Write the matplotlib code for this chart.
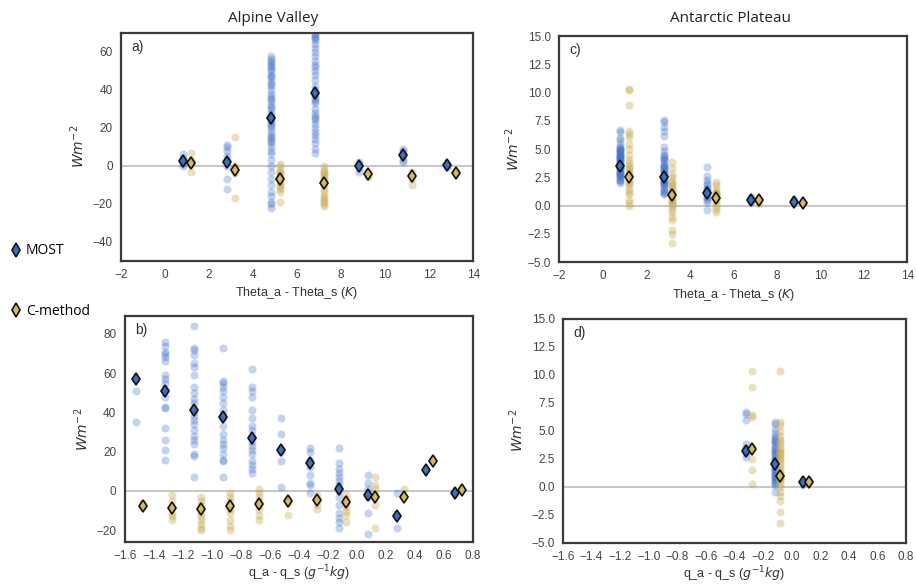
import matplotlib
matplotlib.use("Agg")
import matplotlib.pyplot as plt
from matplotlib.lines import Line2D

plt.rcParams['font.family'] = ['Liberation Sans', 'DejaVu Sans']
plt.rcParams['mathtext.fontset'] = 'dejavusans'

# ---------------- Panel a: Alpine Valley, Theta bins ----------------
a_bins = [1, 3, 5, 7, 9, 11, 13]
a_most_mean = [2.5, 2.0, 25.0, 38.5, 0.0, 5.5, 0.5]
a_cm_mean = [1.5, -2.0, -7.0, -9.0, -4.5, -5.5, -3.5]
a_most_pts = [
    [6, 4, 2, 0, 1, 3],
    [11, 10, 5, 3, 0, -7, -12, 8],
    [58, 56, 55, 53, 52, 50, 48, 46, 44, 42, 40, 38, 36, 34, 32, 30, 28, 26, 24,
     22, 20, 18, 16, 14, 12, 10, 8, 6, 3, 0, -3, -7, -10, -14, -16, -19, -20, -22,
     54, 51, 47, 43, 35, 31, 23, 21, 15, 13],
    [70, 68, 66, 64, 62, 60, 58, 55, 52, 50, 48, 45, 42, 40, 38, 35, 33, 30, 28,
     25, 22, 20, 18, 16, 14, 12, 9, 7, 69, 67, 53, 36, 34, 26, 24],
    [1, -1, -3, 2],
    [9, 8, 5, 2, 3],
    [1, 0, -0.5],
]
a_cm_pts = [
    [7, 3, -3, 1, 2],
    [15, 0, -4, -17, -2],
    [1, 0, -2, -4, -6, -8, -10, -12, -14, -19, -3, -5, -7, -9, -11],
    [0, -2, -4, -6, -8, -10, -12, -14, -16, -18, -20, -21, -3, -5, -7, -9, -17, -19],
    [-3, -5, -6],
    [-3, -7, -10],
    [-3, -4],
]

# ---------------- Panel b: Alpine Valley, q bins ----------------
b_bins = [-1.5, -1.3, -1.1, -0.9, -0.7, -0.5, -0.3, -0.1, 0.1, 0.3, 0.5, 0.7]
b_most_mean = [57, 50.8, 41.4, 37.5, 27, 20.7, 14, 1, -2, -12.7, 10.5, -1]
b_cm_mean = [-7.6, -8.6, -9.2, -7.5, -6.4, -5, -4.7, -5.6, -3.2, -2.9, 15.3, 0.5]
b_most_pts = [
    [51, 35],
    [76, 74, 71, 70, 68, 66, 59, 57, 55, 52, 48, 43, 42, 32, 26, 21, 16],
    [84, 73, 72, 69, 65, 63, 59, 53, 50, 47, 45, 40, 38, 36, 34, 31, 28, 26, 24, 19, 18, 7],
    [73, 56, 55, 53, 51, 48, 45, 41, 39, 37, 33, 29, 26, 24, 22, 19, 16, 15, 7],
    [62, 53, 51, 48, 41, 37, 33, 31, 28, 25, 23, 21, 19, 15, 13, 11, 9],
    [37, 29, 20, 15, 2],
    [22, 20, 16, 12, 8, 4, 3, -1],
    [22, 14, 11, 9, 7, 5, 3, 0, -3, -7, -11, -14, -16, -19],
    [8, 4, 1, -3, -11, -22],
    [-1, -19],
    [],
    [-1],
]
b_cm_pts = [
    [-6],
    [-2, -5, -8, -11, -13, -15],
    [-3, -5, -7, -9, -11, -13, -15, -17, -19, -20],
    [-1, -3, -5, -7, -9, -11, -15, -18, -20],
    [1, -1, -3, -5, -7, -9, -12, -15],
    [-4, -6, -12],
    [-2, -5, -7, -9],
    [-2, -4, -6, -8, -10, -12, -16],
    [7, 3, 1, -2, -7, -19],
    [1, -3],
    [],
    [],
]

# ---------------- Panel c: Antarctic Plateau, Theta bins ----------------
c_bins = [1, 3, 5, 7, 9]
c_most_mean = [3.5, 2.5, 1.1, 0.5, 0.35]
c_cm_mean = [2.5, 0.9, 0.7, 0.5, 0.25]
c_most_pts = [
    [6.7, 6.5, 6.0, 5.8, 5.5, 5.2, 5.0, 4.8, 4.6, 4.4, 4.2, 4.0, 3.8, 3.6, 3.4,
     3.2, 3.0, 2.8, 2.6, 2.4, 2.2, 2.0, 5.1, 4.9, 4.7, 4.5, 4.3, 4.1, 3.9, 3.7,
     3.5, 3.3, 3.1, 2.9, 2.7, 2.5, 2.3, 4.0, 3.6, 3.2, 2.8, 4.4, 4.8],
    [7.6, 7.4, 7.0, 6.6, 6.2, 5.2, 4.8, 4.5, 4.2, 4.0, 3.8, 3.5, 3.2, 3.0, 2.8,
     2.5, 2.2, 2.0, 1.8, 1.5, 1.2, 1.0, 4.4, 4.1, 3.6, 3.3, 2.9, 2.6, 2.3, 2.1,
     1.9, 1.7, 1.4, 1.1, 2.4, 2.7, 3.1, 3.4],
    [3.4, 2.6, 2.3, 2.0, 1.8, 1.5, 1.2, 1.0, 0.8, 0.5, 0.3, -0.4, 1.6, 1.3, 1.1,
     0.9, 0.7],
    [0.8, 0.6, 0.4, 0.3],
    [0.5, 0.3],
]
c_cm_pts = [
    [10.3, 10.2, 8.9, 6.6, 6.3, 6.1, 5.5, 5.0, 4.5, 4.0, 3.5, 3.0, 2.5, 2.0, 1.5,
     1.0, 0.5, 0.2, 0.0, 3.8, 3.2, 2.8, 2.3, 2.1, 1.8, 1.2, 2.7, 3.3],
    [3.9, 3.3, 2.8, 2.5, 2.2, 2.0, 1.7, 1.5, 1.2, 1.0, 0.8, 0.5, 0.2, 0.0, -0.3,
     -0.6, -1.0, -1.3, -2.2, -2.5, -3.3, 1.8, 1.4, 1.1, 0.9, 0.7, 0.4, 0.1],
    [2.1, 1.8, 1.5, 1.2, 1.0, 0.8, 0.5, 0.2, 0.0, -0.3, -0.6, 1.1, 0.9, 0.6],
    [0.6, 0.4, 0.1],
    [0.3, 0.2],
]

# ---------------- Panel d: Antarctic Plateau, q bins ----------------
d_bins = [-0.3, -0.1, 0.1]
d_most_mean = [3.2, 2.0, 0.45]
d_cm_mean = [3.4, 1.0, 0.45]
d_most_pts = [
    [6.7, 6.5, 6.0, 3.8, 3.5, 3.2, 3.0, 2.7],
    [5.8, 5.6, 5.2, 4.8, 4.5, 4.2, 4.0, 3.8, 3.5, 3.2, 3.0, 2.8, 2.5, 2.2, 2.0,
     1.8, 1.5, 1.2, 1.0, 0.8, 0.5, 0.2, -0.5, 4.4, 4.1, 3.6, 3.3, 2.9, 2.6, 2.3,
     2.1, 1.9, 1.7, 1.4, 1.1, 0.9, 0.7, 0.4, 0.3, 2.4, 1.6, 1.3],
    [0.5, 0.3],
]
d_cm_pts = [
    [10.3, 8.9, 6.4, 6.2, 3.5, 2.5, 1.5, 0.3],
    [10.3, 5.8, 5.5, 5.0, 4.5, 4.2, 4.0, 3.5, 3.0, 2.5, 2.0, 1.5, 1.0, 0.5, 0.0,
     -0.5, -0.8, -1.3, -2.2, -3.2, 3.8, 3.3, 2.8, 2.3, 1.8, 1.3, 0.8, 0.3, 1.1,
     0.9, 0.7, 3.1, 2.7],
    [0.5],
]

most_pt_color = '#3f6fc6'
cm_pt_color = '#c9ab58'
most_fill = '#3c6fc0'
cm_fill = '#d7ba5e'
spine_color = '#3a3a3a'
tick_color = '#444444'

fig = plt.figure(figsize=(9.17, 5.85), dpi=100)
ax_a = fig.add_axes([0.132, 0.554, 0.384, 0.390])
ax_c = fig.add_axes([0.610, 0.552, 0.3795, 0.386])
ax_b = fig.add_axes([0.136, 0.0735, 0.3795, 0.386])
ax_d = fig.add_axes([0.614, 0.072, 0.374, 0.383])


def draw(ax, bins, off, most_pts, cm_pts, most_mean, cm_mean):
    for b, pts in zip(bins, most_pts):
        if pts:
            ax.scatter([b - off] * len(pts), pts, s=34, color=most_pt_color,
                       alpha=0.3, linewidths=0, zorder=2)
    for b, pts in zip(bins, cm_pts):
        if pts:
            ax.scatter([b + off] * len(pts), pts, s=34, color=cm_pt_color,
                       alpha=0.38, linewidths=0, zorder=2)
    ax.plot([b - off for b in bins], most_mean, linestyle='none', marker='d',
            markersize=6.5, markerfacecolor=most_fill, markeredgecolor='#111111',
            markeredgewidth=1.2, zorder=4)
    ax.plot([b + off for b in bins], cm_mean, linestyle='none', marker='d',
            markersize=6.5, markerfacecolor=cm_fill, markeredgecolor='#111111',
            markeredgewidth=1.2, zorder=4)
    ax.axhline(0, color='#c8c8c8', lw=1.5, zorder=1)
    for s in ax.spines.values():
        s.set_color(spine_color)
        s.set_linewidth(1.6)
    ax.tick_params(axis='both', length=0, labelsize=8.5, labelcolor=tick_color, pad=6)
    ax.set_ylabel(r'$Wm^{-2}$', fontsize=10, color='#333333')


draw(ax_a, a_bins, 0.2, a_most_pts, a_cm_pts, a_most_mean, a_cm_mean)
draw(ax_c, c_bins, 0.2, c_most_pts, c_cm_pts, c_most_mean, c_cm_mean)
draw(ax_b, b_bins, 0.025, b_most_pts, b_cm_pts, b_most_mean, b_cm_mean)
draw(ax_d, d_bins, 0.02, d_most_pts, d_cm_pts, d_most_mean, d_cm_mean)

for ax in (ax_a, ax_c):
    ax.set_xlim(-2, 14)
    ax.set_xticks(range(-2, 15, 2))
    ax.set_xlabel(r'Theta_a - Theta_s ($K$)', fontsize=9, color='#333333', labelpad=3)
ax_a.set_ylim(-50, 70)
ax_a.set_yticks([-40, -20, 0, 20, 40, 60])
ax_c.set_ylim(-5, 15)
ax_c.set_yticks([-5, -2.5, 0, 2.5, 5, 7.5, 10, 12.5, 15])
ax_c.set_yticklabels(['−5.0', '−2.5', '0.0', '2.5', '5.0', '7.5', '10.0', '12.5', '15.0'])

qticks = [-1.6, -1.4, -1.2, -1.0, -0.8, -0.6, -0.4, -0.2, 0.0, 0.2, 0.4, 0.6, 0.8]
qlabels = [('−%.1f' % abs(t)) if t < 0 else '%.1f' % t for t in qticks]
for ax in (ax_b, ax_d):
    ax.set_xlim(-1.6, 0.8)
    ax.set_xticks(qticks)
    ax.set_xticklabels(qlabels)
    ax.set_xlabel(r'q_a - q_s ($g^{-1}kg$)', fontsize=9, color='#333333', labelpad=1)
ax_b.set_ylim(-26, 89)
ax_b.set_yticks([-20, 0, 20, 40, 60, 80])
ax_d.set_ylim(-5, 15)
ax_d.set_yticks([-5, -2.5, 0, 2.5, 5, 7.5, 10, 12.5, 15])
ax_d.set_yticklabels(['−5.0', '−2.5', '0.0', '2.5', '5.0', '7.5', '10.0', '12.5', '15.0'])

for ax, lab in ((ax_a, 'a)'), (ax_b, 'b)'), (ax_c, 'c)'), (ax_d, 'd)')):
    ax.text(0.03, 0.97, lab, transform=ax.transAxes, ha='left', va='top',
            fontsize=10, color='#333333')

fig.text(273 / 917, 1 - 18 / 585, 'Alpine Valley', ha='center', va='center',
         fontsize=11, family=['Open Sans', 'DejaVu Sans'], color='#222222')
fig.text(730 / 917, 1 - 18 / 585, 'Antarctic Plateau', ha='center', va='center',
         fontsize=11, family=['Open Sans', 'DejaVu Sans'], color='#222222')

h_most = Line2D([], [], linestyle='none', marker='d', markersize=7,
                markerfacecolor=most_fill, markeredgecolor='#111111', markeredgewidth=1.2)
h_cm = Line2D([], [], linestyle='none', marker='d', markersize=7,
              markerfacecolor=cm_fill, markeredgecolor='#111111', markeredgewidth=1.2)
fig.legend([h_most, h_cm], ['MOST', 'C-method'], loc='upper left',
           bbox_to_anchor=(-0.005, 1 - 231 / 585), frameon=False,
           labelspacing=3.3, handletextpad=0.1, handlelength=1.2,
           prop={'family': ['Open Sans', 'DejaVu Sans'], 'size': 10})

fig.savefig('out.png', dpi=100)
